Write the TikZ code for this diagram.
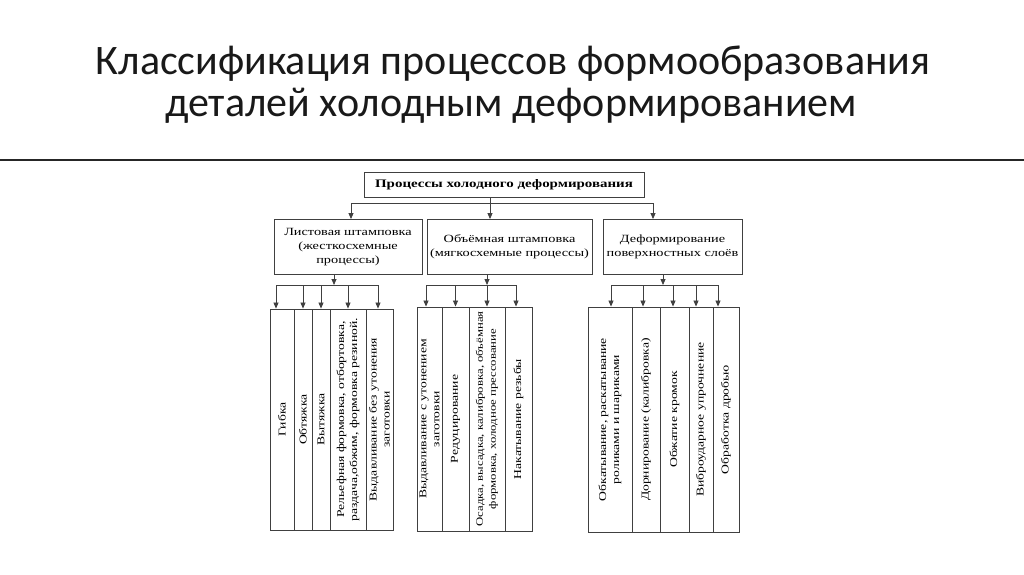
\documentclass[tikz,border=0pt]{standalone}
\usepackage{fontspec}
\setmainfont{Liberation Serif}
\newfontfamily\titlefont{Carlito}
\newfontfamily\diagfont[FakeStretch=1.3]{Liberation Serif}
\usetikzlibrary{arrows.meta}

\begin{document}
\begin{tikzpicture}[x=1pt, y=-1pt,
    title/.style={font=\titlefont\fontsize{42}{46}\selectfont, text=black!90, inner sep=0pt, anchor=base},
    head/.style={draw=black!75, line width=0.9pt, minimum width=280pt, minimum height=25pt, inner sep=0pt, font=\diagfont\bfseries\fontsize{11.5}{13}\selectfont},
    kind/.style={draw=black!75, line width=0.9pt, minimum height=55pt, inner sep=0pt, align=center, font=\diagfont\fontsize{11}{14}\selectfont},
    leaf/.style={draw=black!75, line width=0.9pt, rotate=90, inner sep=0pt, align=center, font=\diagfont\fontsize{10.5}{13}\selectfont},
    link/.style={draw=black!75, line width=0.8pt},
    edge/.style={-{Triangle[length=6pt, width=5pt]}, draw=black!75, line width=0.8pt},
]
\fill[white] (0,0) rectangle (1024,574);
\useasboundingbox (0,0) rectangle (1024,574);

\node[title] (title1) at (513,74) {Классификация процессов формообразования};
\node[title] (title2) at (511,116) {деталей холодным деформированием};
\draw[line width=2pt, black!85] (0,160) -- (1024,160);

% top level
\node[head] (cold) at (504,185) {Процессы холодного деформирования};
\node[kind, minimum width=148pt] (list) at (348,247) {Листовая штамповка\\(жесткосхемные\\процессы)};
\node[kind, minimum width=165pt] (volume) at (509.5,247) {Объёмная штамповка\\(мягкосхемные процессы)};
\node[kind, minimum width=139pt] (surface) at (672.5,247) {Деформирование\\поверхностных слоёв};

\coordinate (b0) at (490,203);
\coordinate (t0a) at (351,203);
\coordinate (t0c) at (653,203);
\draw[link] (cold.south -| b0) -- (b0);
\draw[link] (t0a) -- (t0c);
\draw[edge] (t0a) -- (t0a |- list.north);
\draw[edge] (b0) -- (b0 |- volume.north);
\draw[edge] (t0c) -- (t0c |- surface.north);

% sheet stamping
\node[leaf, minimum width=221pt, minimum height=24pt] (g1a) at (282,419.5) {Гибка};
\node[leaf, minimum width=221pt, minimum height=18pt] (g1b) at (303,419.5) {Обтяжка};
\node[leaf, minimum width=221pt, minimum height=18pt] (g1c) at (321,419.5) {Вытяжка};
\node[leaf, minimum width=221pt, minimum height=36pt] (g1d) at (348,419.5) {Рельефная формовка, отбортовка,\\раздача,обжим, формовка резиной.};
\node[leaf, minimum width=221pt, minimum height=27pt] (g1e) at (379.5,419.5) {Выдавливание без утонения\\заготовки};

\coordinate (b1) at (334,285);
\coordinate (t1a) at (276,285);
\coordinate (t1e) at (378,285);
\draw[edge] (list.south -| b1) -- (b1);
\draw[link] (t1a) -- (t1e);
\draw[edge] (t1a) -- (t1a |- g1a.east);
\draw[edge] (g1b.east |- b1) -- (g1b.east);
\draw[edge] (g1c.east |- b1) -- (g1c.east);
\draw[edge] (g1d.east |- b1) -- (g1d.east);
\draw[edge] (t1e) -- (t1e |- g1e.east);

% volume stamping
\node[leaf, minimum width=224pt, minimum height=25pt] (g2a) at (429.5,419) {Выдавливание с утонением\\заготовки};
\node[leaf, minimum width=224pt, minimum height=27pt] (g2b) at (455.5,419) {Редуцирование};
\node[leaf, minimum width=224pt, minimum height=36pt, font=\diagfont\fontsize{9.8}{13}\selectfont] (g2c) at (487,419) {Осадка, высадка, калибровка, объёмная\\формовка, холодное прессование};
\node[leaf, minimum width=224pt, minimum height=27pt] (g2d) at (518.5,419) {Накатывание резьбы};

\coordinate (b2) at (487,285);
\coordinate (t2a) at (426,285);
\coordinate (t2d) at (516,285);
\draw[edge] (volume.south -| b2) -- (b2);
\draw[link] (t2a) -- (t2d);
\draw[edge] (t2a) -- (t2a |- g2a.east);
\draw[edge] (g2b.east |- b2) -- (g2b.east);
\draw[edge] (b2) -- (b2 |- g2c.east);
\draw[edge] (t2d) -- (t2d |- g2d.east);

% surface layers
\node[leaf, minimum width=225pt, minimum height=44pt] (g3a) at (610,419.5) {Обкатывание, раскатывание\\роликами и шариками};
\node[leaf, minimum width=225pt, minimum height=28pt] (g3b) at (646,419.5) {Дорнирование (калибровка)};
\node[leaf, minimum width=225pt, minimum height=29pt] (g3c) at (674.5,419.5) {Обжатие кромок};
\node[leaf, minimum width=225pt, minimum height=24pt] (g3d) at (701,419.5) {Виброударное упрочнение};
\node[leaf, minimum width=225pt, minimum height=26pt] (g3e) at (726,419.5) {Обработка дробью};

\coordinate (b3) at (663,285);
\coordinate (t3a) at (611,285);
\coordinate (t3b) at (643,285);
\coordinate (t3c) at (673,285);
\coordinate (t3d) at (696,285);
\coordinate (t3e) at (718,285);
\draw[edge] (surface.south -| b3) -- (b3);
\draw[link] (t3a) -- (t3e);
\draw[edge] (t3a) -- (t3a |- g3a.east);
\draw[edge] (t3b) -- (t3b |- g3b.east);
\draw[edge] (t3c) -- (t3c |- g3c.east);
\draw[edge] (t3d) -- (t3d |- g3d.east);
\draw[edge] (t3e) -- (t3e |- g3e.east);
\end{tikzpicture}
\end{document}
